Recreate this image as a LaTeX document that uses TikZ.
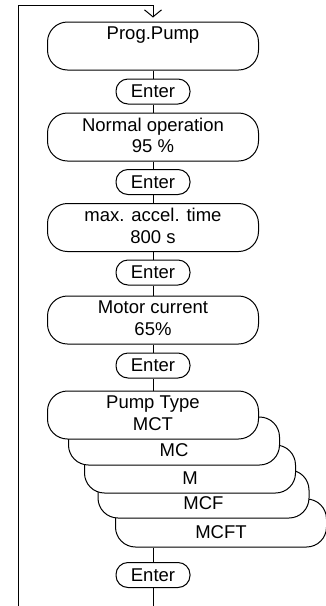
\documentclass[tikz,border=0pt]{standalone}
\usepackage{fontspec}
\setmainfont{Liberation Sans}
\usetikzlibrary{arrows.meta, calc}
\definecolor{inkline}{HTML}{000000}
\tikzset{
  menu/.style={draw=inkline, line width=1pt, rounded corners=20pt, fill=white,
               minimum width=211pt, minimum height=48pt, inner sep=0pt,
               align=center, text=inkline},
  key/.style={draw=inkline, line width=1pt, rounded corners=12pt, fill=white,
              minimum width=74pt, minimum height=25pt, inner sep=0pt, text=inkline},
  flow/.style={draw=inkline, line width=1pt}
}
\newcommand{\menubox}[5]{%
  \node[menu] (#1) at (#2,#3) {\vphantom{Ag}#4\\\vphantom{Ag}#5};}
\newcommand{\enterbox}[2]{%
  \node[key] (#1) at (153,#2) {Enter};}

\begin{document}
\begin{tikzpicture}[x=1pt, y=-1pt, font=\fontsize{18.5}{21.5}\selectfont]
  \useasboundingbox (0,0) rectangle (326,606);
  \menubox{prog}{153}{46}{Prog.Pump}{}
  \enterbox{e1}{91.5}
  \menubox{normal}{153}{137}{Normal operation}{95 \%}
  \enterbox{e2}{182}
  \menubox{accel}{153}{227.5}{max. accel. time}{800 s}
  \enterbox{e3}{272.5}
  \menubox{motor}{153}{320}{Motor current}{65\%}
  \enterbox{e4}{365.5}
  % pump types, back to front
  \menubox{mcft}{221}{523}{}{MCFT}
  \menubox{mcf}{203.5}{494}{}{MCF}
  \menubox{m}{190}{469}{}{M}
  \menubox{mc}{174}{441}{}{MC}
  \menubox{ptype}{153}{415}{Pump Type}{MCT}
  \enterbox{e5}{575}
  \coordinate (ret) at (18,606);
  \coordinate (top) at (153,5);
  \coordinate (out) at (153,606);
  \draw[flow] (prog) -- (e1);
  \draw[flow] (e1) -- (normal);
  \draw[flow] (normal) -- (e2);
  \draw[flow] (e2) -- (accel);
  \draw[flow] (accel) -- (e3);
  \draw[flow] (e3) -- (motor);
  \draw[flow] (motor) -- (e4);
  \draw[flow] (e4) -- (ptype);
  \draw[flow] (e5.north |- mcft.south) -- (e5.north);
  \draw[flow] (e5) -- (out);
  \draw[flow, -{Straight Barb[length=7pt, width=17pt]}]
    (ret) |- (top) -- ([yshift=4pt]prog.north);
\end{tikzpicture}
\end{document}
